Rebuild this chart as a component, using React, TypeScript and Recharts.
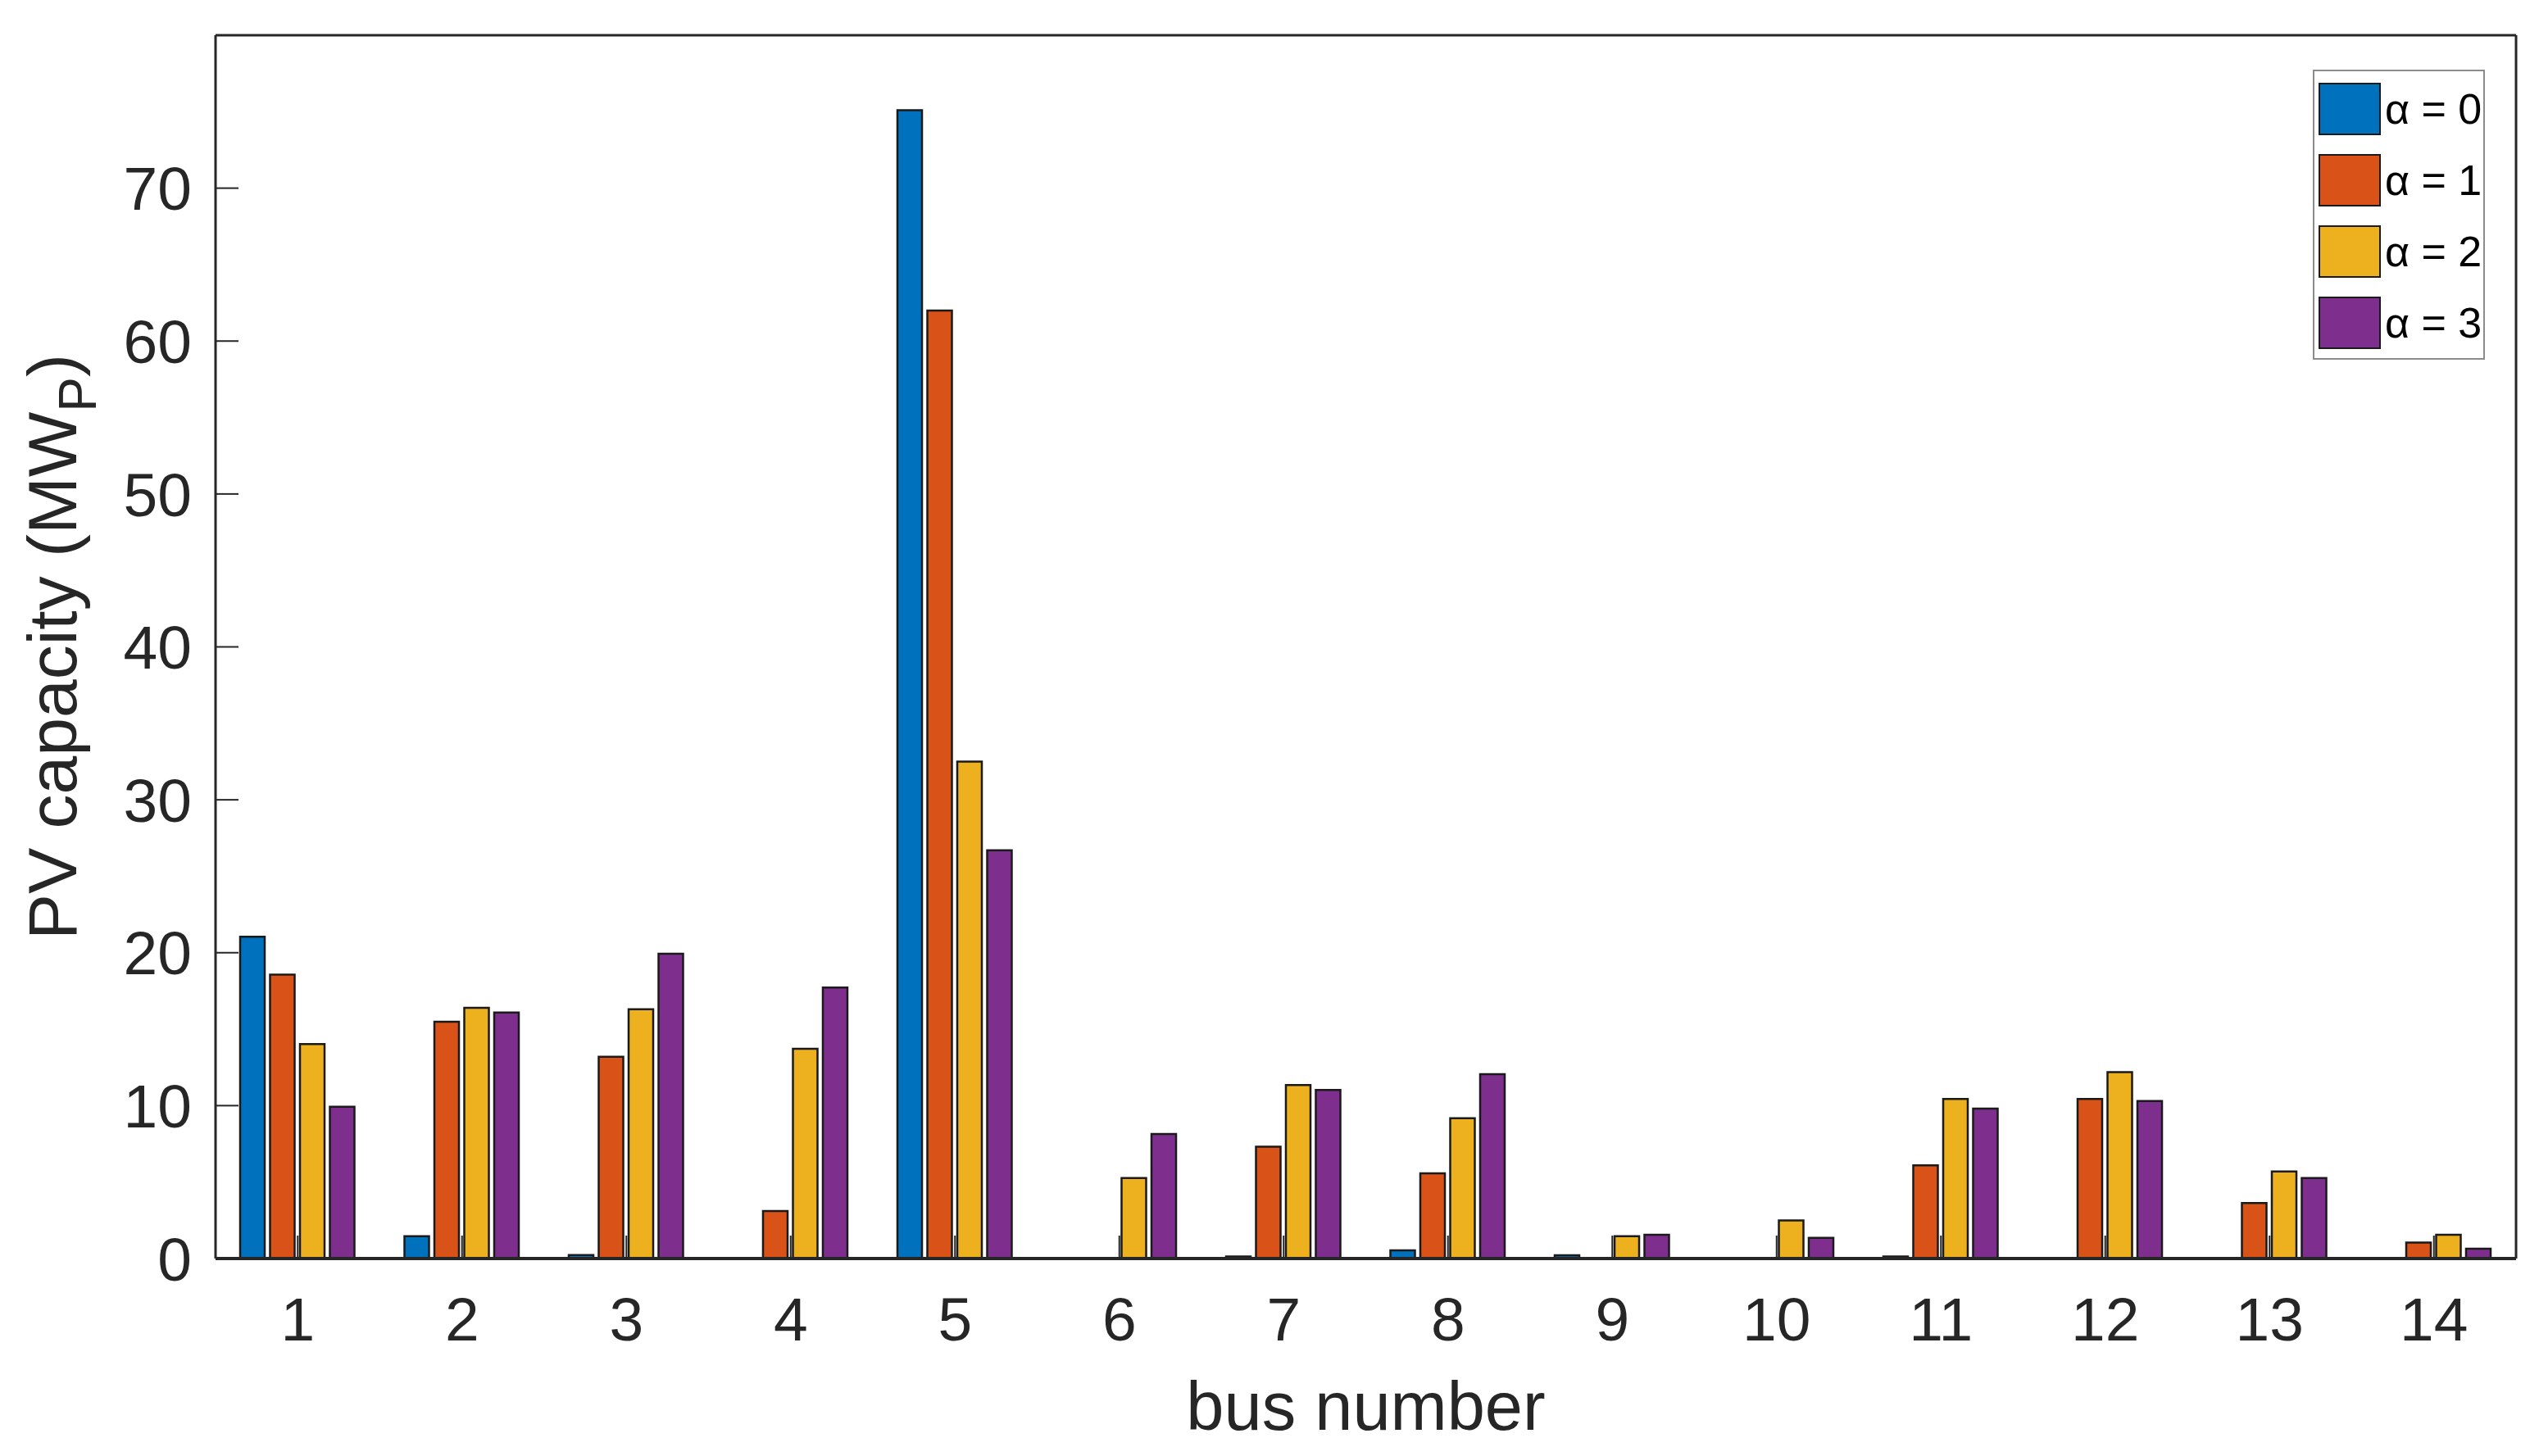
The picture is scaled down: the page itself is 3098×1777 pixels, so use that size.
import { BarChart, Bar, XAxis, YAxis, Legend } from "recharts";

// PV capacity per bus for each alpha setting (MWp)
const busNumbers = [1, 2, 3, 4, 5, 6, 7, 8, 9, 10, 11, 12, 13, 14];
const alpha0 = [21.05, 1.46, 0.23, 0, 75.1, 0, 0.14, 0.53, 0.21, 0, 0.14, 0, 0, 0];
const alpha1 = [18.56, 15.48, 13.2, 3.11, 62.0, 0, 7.31, 5.57, 0, 0, 6.1, 10.43, 3.63, 1.05];
const alpha2 = [14.02, 16.4, 16.3, 13.72, 32.5, 5.27, 11.35, 9.18, 1.46, 2.49, 10.43, 12.19, 5.69, 1.55];
const alpha3 = [9.93, 16.09, 19.93, 17.72, 26.7, 8.15, 11.03, 12.06, 1.55, 1.35, 9.8, 10.3, 5.27, 0.64];

const yTicks = [0, 10, 20, 30, 40, 50, 60, 70];
const seriesNames = ["α = 0", "α = 1", "α = 2", "α = 3"];
const seriesKeys = ["a0", "a1", "a2", "a3"];
const seriesColors = ["#0072BD", "#D95319", "#EDB120", "#7E2F8E"];

const data = busNumbers.map((bus, i) => ({
  bus,
  a0: alpha0[i],
  a1: alpha1[i],
  a2: alpha2[i],
  a3: alpha3[i],
}));

const FONT = '"Liberation Sans", Arial, Helvetica, sans-serif';
const INK = "#262626";
const TICK = 28;

const axisLine = { stroke: INK, strokeWidth: 3 };
const tickLine = { stroke: INK, strokeWidth: 2 };
const tickText = { fontSize: 75, fill: INK, fontFamily: FONT };

const XTitle = (props: any) => {
  const { x, y, width } = props.viewBox;
  return (
    <text x={x + width / 2} y={y + 209} textAnchor="middle" fontSize={83} fill={INK} fontFamily={FONT}>
      bus number
    </text>
  );
};

const YTitle = (props: any) => {
  const { x, y, height } = props.viewBox;
  const cx = x - 70;
  const cy = y + height / 2;
  return (
    <text
      x={cx}
      y={cy}
      transform={`rotate(-90 ${cx} ${cy})`}
      textAnchor="middle"
      fontSize={84}
      fill={INK}
      fontFamily={FONT}
    >
      PV capacity (MW
      <tspan fontSize={64} dy={24}>
        P
      </tspan>
      <tspan dy={-24}>)</tspan>
    </text>
  );
};

const LegendBox = (props: any) => {
  const items = props.payload || [];
  return (
    <div
      style={{
        border: "2px solid #8c8c8c",
        background: "#fff",
        width: 210,
        boxSizing: "border-box",
        paddingTop: 2,
        paddingLeft: 5,
        fontFamily: FONT,
      }}
    >
      {items.map((it: any) => (
        <div key={it.value} style={{ display: "flex", alignItems: "center", height: 87 }}>
          <div
            style={{
              width: 76,
              height: 64,
              background: it.color,
              border: "2px solid #1a1a1a",
              boxSizing: "border-box",
            }}
          />
          <span style={{ marginLeft: 5, fontSize: 52, lineHeight: 1, color: "#000" }}>{it.value}</span>
        </div>
      ))}
    </div>
  );
};

export default function App() {
  return (
    <div style={{ position: "absolute", left: 0, top: 0, background: "#fff" }}>
      <BarChart
        width={3098}
        height={1777}
        data={data}
        margin={{ top: 33, right: 18, bottom: 141, left: 163 }}
        barCategoryGap={30}
        barGap={6.5}
      >
        <XAxis
          xAxisId="bottom"
          dataKey="bus"
          height={100}
          axisLine={{ stroke: INK, strokeWidth: 4 }}
          tickLine={tickLine}
          tickSize={-TICK}
          tickMargin={75}
          tick={tickText}
          interval={0}
          label={{ content: XTitle }}
        />
        <XAxis
          xAxisId="top"
          dataKey="bus"
          orientation="top"
          height={10}
          axisLine={axisLine}
          tickLine={tickLine}
          tickSize={-TICK}
          tick={false}
          interval={0}
        />
        <YAxis
          yAxisId="left"
          type="number"
          domain={[0, 80]}
          ticks={yTicks}
          width={100}
          axisLine={axisLine}
          tickLine={tickLine}
          tickSize={-TICK}
          tickMargin={57}
          tick={tickText}
          interval={0}
          label={{ content: YTitle }}
        />
        <YAxis
          yAxisId="right"
          orientation="right"
          type="number"
          domain={[0, 80]}
          ticks={yTicks}
          width={10}
          axisLine={axisLine}
          tickLine={tickLine}
          tickSize={-TICK}
          tick={false}
          interval={0}
        />
        <Legend
          layout="vertical"
          align="center"
          verticalAlign="middle"
          content={LegendBox}
          wrapperStyle={{ position: "absolute", left: 2822, top: 85, width: "auto" }}
        />
        {seriesKeys.map((k, i) => (
          <Bar
            key={k}
            dataKey={k}
            name={seriesNames[i]}
            xAxisId="bottom"
            yAxisId="left"
            fill={seriesColors[i]}
            stroke="#1a1a1a"
            strokeWidth={2.5}
            isAnimationActive={false}
          />
        ))}
      </BarChart>
    </div>
  );
}
